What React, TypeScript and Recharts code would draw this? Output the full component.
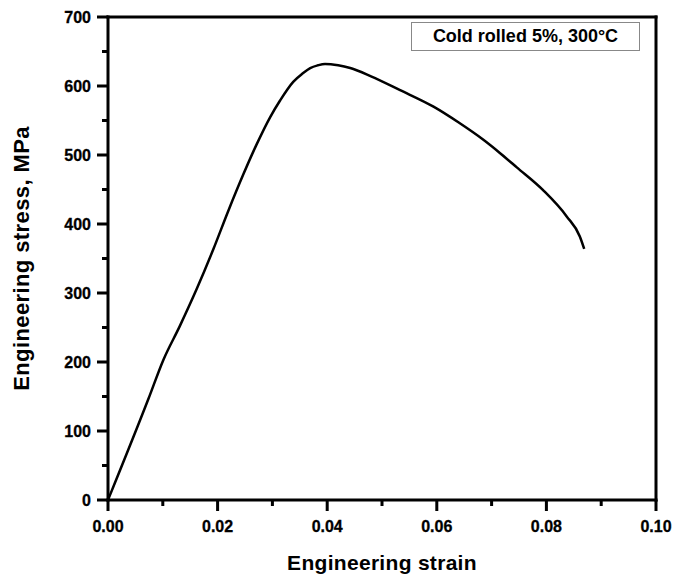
import React from 'react';
import { LineChart, Line, XAxis, YAxis, ReferenceArea, Label } from 'recharts';

const strain = [0, 0.0074, 0.0101, 0.0131, 0.0162, 0.0192, 0.022, 0.0247, 0.0271, 0.0296, 0.0314, 0.0338, 0.0355, 0.0369, 0.0383, 0.0396, 0.042, 0.0442, 0.048, 0.0533, 0.0594, 0.064, 0.0685, 0.0715, 0.0746, 0.0794, 0.0837, 0.0861, 0.0869];
const stress = [0, 147, 203, 252, 306, 363, 420, 472, 515, 555, 579, 606, 618, 626, 630, 632, 630, 626, 614, 594, 570, 547, 522, 503, 482, 449, 411, 382, 364];

const xTicks = [0, 0.01, 0.02, 0.03, 0.04, 0.05, 0.06, 0.07, 0.08, 0.09, 0.1];
const xTickLabels = ['0.00', '', '0.02', '', '0.04', '', '0.06', '', '0.08', '', '0.10'];
const yTicks = [0, 50, 100, 150, 200, 250, 300, 350, 400, 450, 500, 550, 600, 650, 700];
const yTickLabels = ['0', '', '100', '', '200', '', '300', '', '400', '', '500', '', '600', '', '700'];

const legendText = 'Cold rolled 5%, 300°C';
const xTitle = 'Engineering strain';
const yTitle = 'Engineering stress, MPa';

const data = strain.map((s, i) => ({ strain: s, stress: stress[i] }));

const FONT = '"Liberation Sans", Arial, Helvetica, sans-serif';
const LW = 3;

const XTick = (props: any) => {
  const { x, y, index } = props;
  const label = xTickLabels[index] ?? '';
  const major = label !== '';
  const len = major ? 11 : 6;
  return (
    <g>
      <rect x={x - LW / 2} y={y} width={LW} height={len} fill="#000" />
      {major && (
        <text x={x} y={y + 32} textAnchor="middle" fontFamily={FONT} fontWeight="bold" fontSize={16} fill="#000" stroke="#000" strokeWidth={0.3}>
          {label}
        </text>
      )}
    </g>
  );
};

const YTick = (props: any) => {
  const { x, y, index } = props;
  const label = yTickLabels[index] ?? '';
  const major = label !== '';
  const len = major ? 11 : 6;
  return (
    <g>
      <rect x={x - len} y={y - LW / 2} width={len} height={LW} fill="#000" />
      {major && (
        <text x={x - 17} y={y + 6} textAnchor="end" fontFamily={FONT} fontWeight="bold" fontSize={16} fill="#000" stroke="#000" strokeWidth={0.3}>
          {label}
        </text>
      )}
    </g>
  );
};

const Frame = (props: any) => {
  const { x, y, width, height } = props;
  const h = LW / 2;
  return (
    <g>
      <rect x={x - h} y={y - h} width={width + LW} height={LW} fill="#000" />
      <rect x={x - h} y={y + height - h} width={width + LW} height={LW} fill="#000" />
      <rect x={x - h} y={y - h} width={LW} height={height + LW} fill="#000" />
      <rect x={x + width - h} y={y - h} width={LW} height={height + LW} fill="#000" />
    </g>
  );
};

export default function App() {
  return (
    <div style={{ position: 'absolute', left: 0, top: 0, width: 673, height: 576, background: '#fff' }}>
      <LineChart width={673} height={576} data={data} margin={{ top: 17, right: 17, left: 0, bottom: 0 }}>
        <XAxis
          dataKey="strain"
          type="number"
          domain={[0, 0.1]}
          ticks={xTicks}
          interval={0}
          height={76}
          tickSize={0}
          tickMargin={0}
          tickLine={false}
          axisLine={false}
          tick={<XTick />}
        >
          <Label
            value={xTitle}
            position="insideBottom"
            offset={6}
            style={{ fontFamily: FONT, fontWeight: 'bold', fontSize: 21, letterSpacing: 0.3, fill: '#000' }}
          />
        </XAxis>
        <YAxis
          type="number"
          domain={[0, 700]}
          ticks={yTicks}
          interval={0}
          width={108}
          tickSize={0}
          tickMargin={0}
          tickLine={false}
          axisLine={false}
          tick={<YTick />}
        >
          <Label
            value={yTitle}
            angle={-90}
            position="insideLeft"
            offset={21}
            style={{ fontFamily: FONT, fontWeight: 'bold', fontSize: 22, letterSpacing: 0.4, fill: '#000', textAnchor: 'middle' }}
          />
        </YAxis>
        <ReferenceArea x1={0} x2={0.1} y1={0} y2={700} shape={<Frame />} />
        <Line
          type="monotone"
          dataKey="stress"
          stroke="#000"
          strokeWidth={2.5}
          dot={false}
          isAnimationActive={false}
        />
      </LineChart>
      <div
        style={{
          position: 'absolute',
          left: 411,
          top: 22,
          width: 229,
          height: 29,
          boxSizing: 'border-box',
          border: '1px solid #888',
          fontFamily: FONT,
          fontWeight: 'bold',
          fontSize: 18,
          lineHeight: '27px',
          textAlign: 'center',
          color: '#000',
          background: '#fff',
        }}
      >
        {legendText}
      </div>
    </div>
  );
}
